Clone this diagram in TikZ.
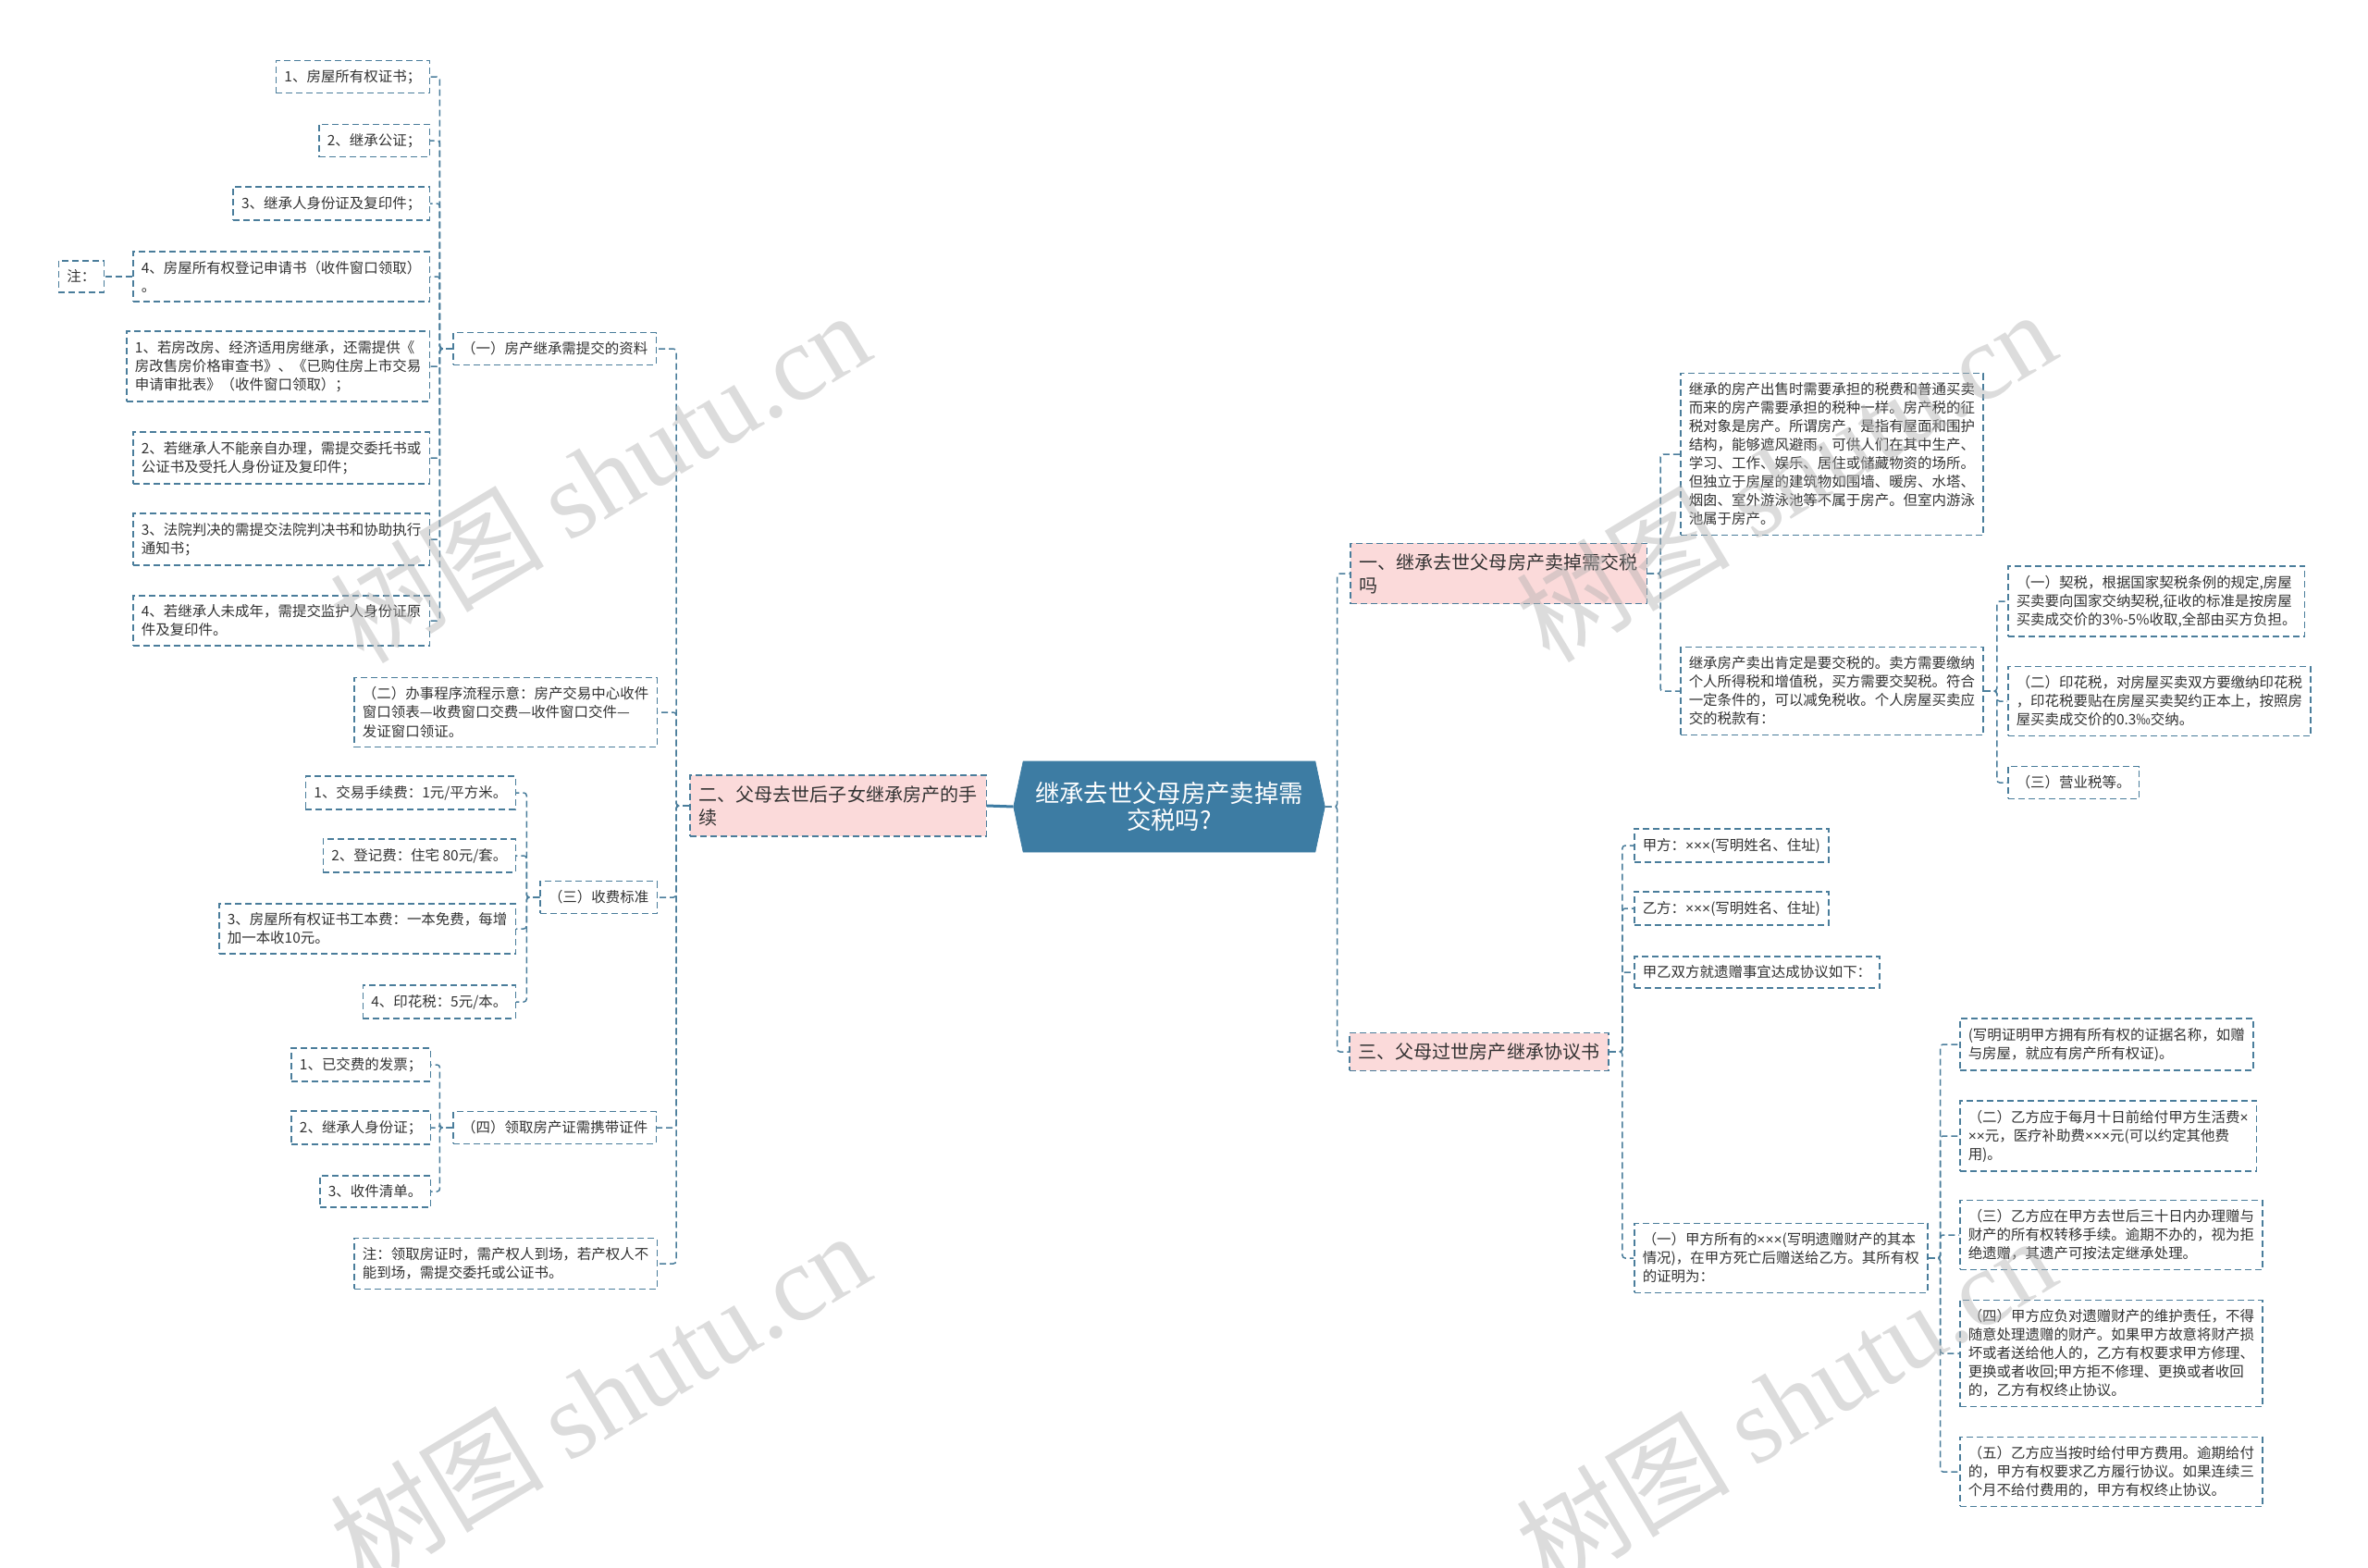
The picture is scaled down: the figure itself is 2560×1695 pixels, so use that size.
\documentclass[tikz,border=0pt]{standalone}
\usepackage{fontspec}
\setmainfont{Noto Sans CJK SC}
\newfontfamily\wmfont{Liberation Serif}
\newfontfamily\latinf{Liberation Sans}
\newcommand\tms{{\latinf ×}}
\usetikzlibrary{shapes.symbols}
\definecolor{linec}{HTML}{4A7D9B}
\definecolor{rootc}{HTML}{3D7CA3}
\definecolor{pinkc}{HTML}{FBDADA}
\definecolor{textc}{HTML}{333333}
\tikzset{
  leaf/.style={draw=linec, line width=0.3mm, dash pattern=on 1.4mm off 0.8mm, fill=white, text=textc,
    align=left, inner xsep=1.8mm, inner ysep=2mm, font=\fontsize{8.8}{11.4}\selectfont},
  topic/.style={leaf, fill=pinkc, inner xsep=2mm, inner ysep=2.2mm, font=\fontsize{11.4}{14.2}\selectfont},
  root/.style={signal, signal to=west and east, signal pointer angle=156, fill=rootc, draw=rootc,
    text=white, align=center, minimum width=67.3mm, minimum height=19.6mm, font=\fontsize{15}{17}\selectfont},
  link/.style={draw=linec, line width=0.3mm, dash pattern=on 1.4mm off 0.8mm, rounded corners=0.6mm},
  wmtext/.style={text=gray!60, opacity=0.45, rotate=31, font=\fontsize{66}{66}\selectfont}
}
\begin{document}
\begin{tikzpicture}[x=0.2mm,y=-0.2mm]
\useasboundingbox (0,0) rectangle (2560,1695);
% centre
\node[root] (root) at (1264,872) {继承去世父母房产卖掉需\\交税吗?};
% left branch
\node[topic, anchor=east] (two) at (1067,871) {二、父母去世后子女继承房产的手\\续};
\node[leaf, anchor=east] (docs) at (710,377) {（一）房产继承需提交的资料};
\node[leaf, anchor=east] (flow) at (711,770) {（二）办事程序流程示意：房产交易中心收件\\窗口领表—收费窗口交费—收件窗口交件—\\发证窗口领证。};
\node[leaf, anchor=east] (fees) at (711,970) {（三）收费标准};
\node[leaf, anchor=east] (take) at (710,1219) {（四）领取房产证需携带证件};
\node[leaf, anchor=east] (note2) at (711,1366) {注：领取房证时，需产权人到场，若产权人不\\能到场，需提交委托或公证书。};
% materials
\node[leaf, anchor=east] (d1) at (465,83) {1、房屋所有权证书；};
\node[leaf, anchor=east] (d2) at (465,152) {2、继承公证；};
\node[leaf, anchor=east] (d3) at (465,220) {3、继承人身份证及复印件；};
\node[leaf, anchor=east] (d4) at (465,299) {4、房屋所有权登记申请书（收件窗口领取）\\。};
\node[leaf, anchor=east] (note1) at (113,299) {注：};
\node[leaf, anchor=east] (d5) at (465,396) {1、若房改房、经济适用房继承，还需提供《\\房改售房价格审查书》、《已购住房上市交易\\申请审批表》（收件窗口领取）；};
\node[leaf, anchor=east] (d6) at (465,495) {2、若继承人不能亲自办理，需提交委托书或\\公证书及受托人身份证及复印件；};
\node[leaf, anchor=east] (d7) at (465,583) {3、法院判决的需提交法院判决书和协助执行\\通知书；};
\node[leaf, anchor=east] (d8) at (465,671) {4、若继承人未成年，需提交监护人身份证原\\件及复印件。};
% fees
\node[leaf, anchor=east] (f1) at (558,857) {1、交易手续费：1元/平方米。};
\node[leaf, anchor=east] (f2) at (558,925) {2、登记费：住宅 80元/套。};
\node[leaf, anchor=east] (f3) at (558,1004) {3、房屋所有权证书工本费：一本免费，每增\\加一本收10元。};
\node[leaf, anchor=east] (f4) at (558,1083) {4、印花税：5元/本。};
% papers to bring
\node[leaf, anchor=east] (t1) at (466,1151) {1、已交费的发票；};
\node[leaf, anchor=east] (t2) at (466,1219) {2、继承人身份证；};
\node[leaf, anchor=east] (t3) at (466,1288) {3、收件清单。};
% right branch
\node[topic, anchor=west] (one) at (1459,620) {一、继承去世父母房产卖掉需交税\\吗};
\node[topic, anchor=west] (three) at (1458,1137) {三、父母过世房产继承协议书};
\node[leaf, anchor=west] (tax0) at (1816,491) {继承的房产出售时需要承担的税费和普通买卖\\而来的房产需要承担的税种一样。房产税的征\\税对象是房产。所谓房产，是指有屋面和围护\\结构，能够遮风避雨，可供人们在其中生产、\\学习、工作、娱乐、居住或储藏物资的场所。\\但独立于房屋的建筑物如围墙、暖房、水塔、\\烟囱、室外游泳池等不属于房产。但室内游泳\\池属于房产。};
\node[leaf, anchor=west] (sell) at (1816,747) {继承房产卖出肯定是要交税的。卖方需要缴纳\\个人所得税和增值税，买方需要交契税。符合\\一定条件的，可以减免税收。个人房屋买卖应\\交的税款有：};
\node[leaf, anchor=west] (q1) at (2170,650) {（一）契税，根据国家契税条例的规定,房屋\\买卖要向国家交纳契税,征收的标准是按房屋\\买卖成交价的3\%-5\%收取,全部由买方负担。};
\node[leaf, anchor=west] (q2) at (2170,758) {（二）印花税，对房屋买卖双方要缴纳印花税\\，印花税要贴在房屋买卖契约正本上，按照房\\屋买卖成交价的0.3‰交纳。};
\node[leaf, anchor=west] (q3) at (2170,846) {（三）营业税等。};
% agreement
\node[leaf, anchor=west] (pa) at (1766,914) {甲方：\tms{}\tms{}\tms{}(写明姓名、住址)};
\node[leaf, anchor=west] (pb) at (1766,982) {乙方：\tms{}\tms{}\tms{}(写明姓名、住址)};
\node[leaf, anchor=west] (agree) at (1766,1051) {甲乙双方就遗赠事宜达成协议如下：};
\node[leaf, anchor=west] (own) at (1766,1360) {（一）甲方所有的\tms{}\tms{}\tms{}(写明遗赠财产的其本\\情况)，在甲方死亡后赠送给乙方。其所有权\\的证明为：};
\node[leaf, anchor=west] (e1) at (2118,1129) {(写明证明甲方拥有所有权的证据名称，如赠\\与房屋，就应有房产所有权证)。};
\node[leaf, anchor=west] (e2) at (2118,1228) {（二）乙方应于每月十日前给付甲方生活费\tms{}\\\tms{}\tms{}元，医疗补助费\tms{}\tms{}\tms{}元(可以约定其他费\\用)。};
\node[leaf, anchor=west] (e3) at (2118,1335) {（三）乙方应在甲方去世后三十日内办理赠与\\财产的所有权转移手续。逾期不办的，视为拒\\绝遗赠，其遗产可按法定继承处理。};
\node[leaf, anchor=west] (e4) at (2118,1463) {（四）甲方应负对遗赠财产的维护责任，不得\\随意处理遗赠的财产。如果甲方故意将财产损\\坏或者送给他人的，乙方有权要求甲方修理、\\更换或者收回;甲方拒不修理、更换或者收回\\的，乙方有权终止协议。};
\node[leaf, anchor=west] (e5) at (2118,1591) {（五）乙方应当按时给付甲方费用。逾期给付\\的，甲方有权要求乙方履行协议。如果连续三\\个月不给付费用的，甲方有权终止协议。};
% connectors
\draw[rootc, line width=0.6mm] (root.west) -- (two.east);
\foreach \c in {one,three} \draw[link] (root.east) -- ++(13,0) |- (\c.west);
\foreach \c in {docs,flow,fees,take,note2} \draw[link] (two.west) -- ++(-14,0) |- (\c.east);
\foreach \c in {d1,d2,d3,d4,d5,d6,d7,d8} \draw[link] (docs.west) -- ++(-14,0) |- (\c.east);
\draw[link] (d4.west) -- (note1.east);
\foreach \c in {f1,f2,f3,f4} \draw[link] (fees.west) -- ++(-14,0) |- (\c.east);
\foreach \c in {t1,t2,t3} \draw[link] (take.west) -- ++(-14,0) |- (\c.east);
\foreach \c in {tax0,sell} \draw[link] (one.east) -- ++(14,0) |- (\c.west);
\foreach \c in {q1,q2,q3} \draw[link] (sell.east) -- ++(14,0) |- (\c.west);
\foreach \c in {pa,pb,agree,own} \draw[link] (three.east) -- ++(14,0) |- (\c.west);
\foreach \c in {e1,e2,e3,e4,e5} \draw[link] (own.east) -- ++(13,0) |- (\c.west);
% watermarks
\node[wmtext] (wm1) at (648,515) {树图 {\wmfont shutu.cn}};
\node[wmtext] (wm2) at (648,1510) {树图 {\wmfont shutu.cn}};
\node[wmtext] (wm3) at (1930,514) {树图 {\wmfont shutu.cn}};
\node[wmtext] (wm4) at (1930,1515) {树图 {\wmfont shutu.cn}};
\end{tikzpicture}
\end{document}
